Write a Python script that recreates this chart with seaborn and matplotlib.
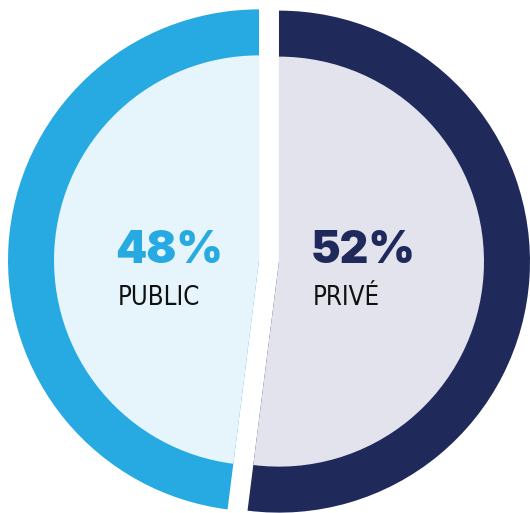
import matplotlib
matplotlib.use("Agg")
import matplotlib.pyplot as plt
import seaborn as sns

# data
labels = ["PRIVÉ", "PUBLIC"]
shares = [52, 48]
ring_colors = ["#1F2A5B", "#27AAE1"]
fill_colors = ["#E3E3ED", "#E6F4FC"]
pct_colors = ["#1F2A5B", "#27AAE1"]

sns.set_style("white")

fig = plt.figure(figsize=(5.30, 5.13), dpi=100)
ax = fig.add_axes([0, 0, 1, 1])

# outer ring (full wedges), then lighter inner disc on top
center = (269, 252)
ax.pie(shares, colors=ring_colors, startangle=90, counterclock=False,
       radius=251, center=center, explode=[10, 10], frame=True,
       wedgeprops={"linewidth": 0})
ax.pie(shares, colors=fill_colors, startangle=90, counterclock=False,
       radius=205, center=center, explode=[10, 10], frame=True,
       wedgeprops={"linewidth": 0})

ax.set_xlim(0, 530)
ax.set_ylim(0, 513)
ax.set_aspect("equal")
ax.axis("off")

# labels inside
pct_x = [311, 115]
lab_x = [313, 118]
for i in range(2):
    ax.text(pct_x[i], 250, f"{shares[i]}%", color=pct_colors[i], fontsize=32,
            fontweight=900, family=["Inter", "DejaVu Sans"], va="baseline", ha="left")
    ax.text(lab_x[i], 208, labels[i], color="#111111", fontsize=18.5,
            family=["DejaVu Sans"], fontstretch="condensed", va="baseline", ha="left")

fig.savefig("out.png", dpi=100)
